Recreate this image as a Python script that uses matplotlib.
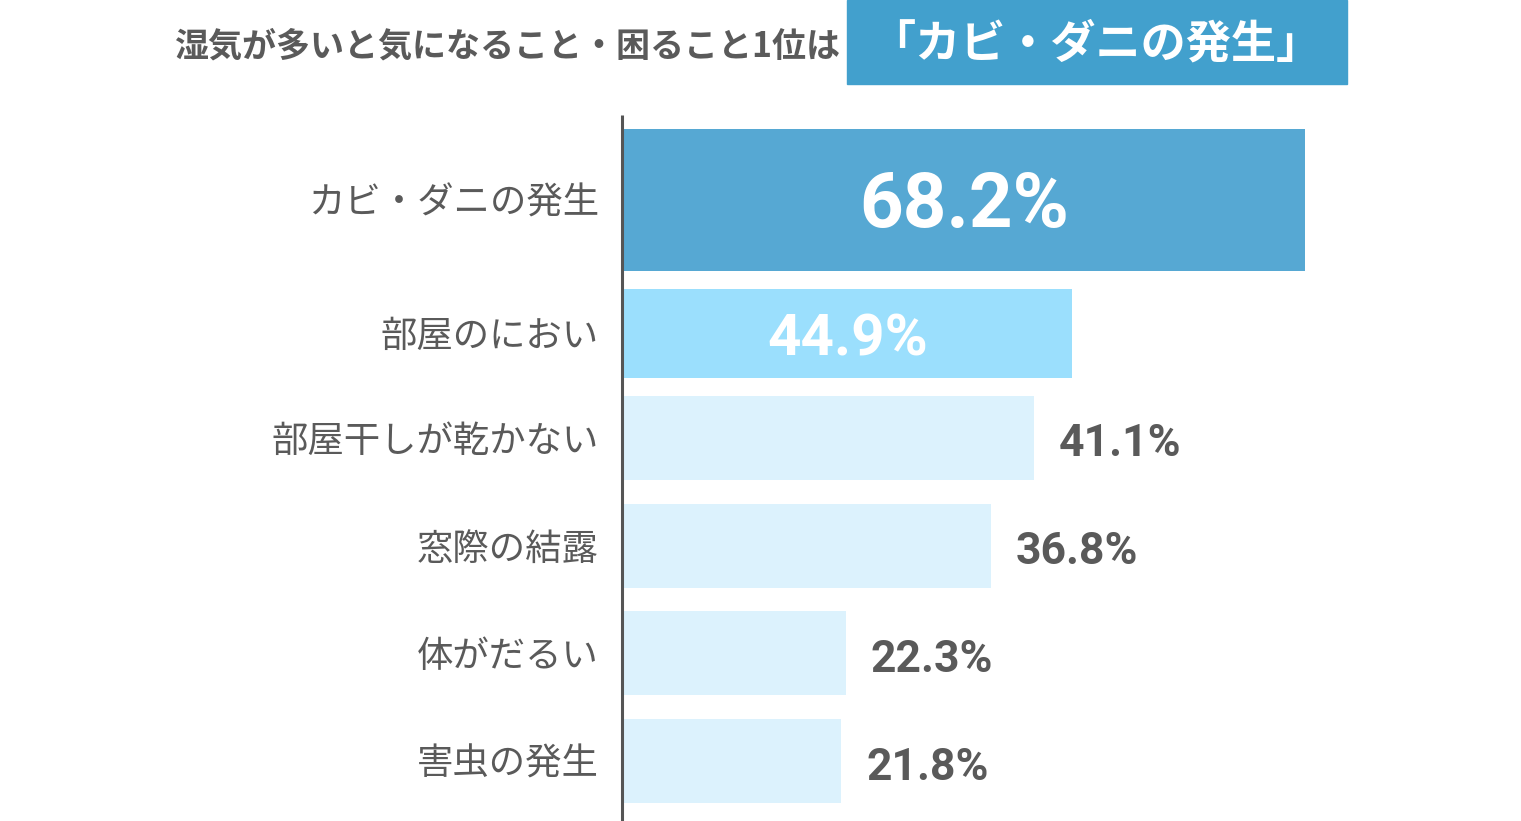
import matplotlib
matplotlib.use("Agg")
import matplotlib.pyplot as plt
from matplotlib.patches import Rectangle

# ---- data ----
categories = ["カビ・ダニの発生", "部屋のにおい", "部屋干しが乾かない", "窓際の結露", "体がだるい", "害虫の発生"]
values = [68.2, 44.9, 41.1, 36.8, 22.3, 21.8]
title_text = "湿気が多いと気になること・困ること1位は"
highlight_text = "「カビ・ダニの発生」"

# ---- style / layout ----
bar_colors = ["#56A8D3", "#9BDFFD", "#DCF2FD", "#DCF2FD", "#DCF2FD", "#DCF2FD"]
y_centers = [200, 333.5, 438, 546, 653.5, 761.5]   # pixel rows
bar_heights = [142, 89, 84, 84, 84, 84]
inside = [True, True, False, False, False, False]
val_sizes = [55, 42, 32, 32, 32, 32]
JP = ["Noto Sans CJK JP", "DejaVu Sans"]
TXT = "#5a5a5a"

W, H = 1521, 821
fig = plt.figure(figsize=(W / 100, H / 100), dpi=100)
ax = fig.add_axes([0, 0, 1, 1])
px_per_unit = 10.0
x0 = 623
ax.set_xlim(-x0 / px_per_unit, (W - x0) / px_per_unit)
ax.set_ylim(H, 0)
ax.axis("off")

ax.barh(y_centers, values, height=bar_heights, color=bar_colors, left=0, zorder=2)

# axis line
ax.plot([-0.1, -0.1], [115, 821], color="#555555", lw=2.2, zorder=3, solid_capstyle="butt")

for cat, v, yc, ins, fs in zip(categories, values, y_centers, inside, val_sizes):
    ax.text(-2.4, yc + 3.5, cat, ha="right", va="center", fontsize=26.2, color=TXT, family=JP)
    if ins:
        ax.text(v / 2, yc + 6.5, f"{v:.1f}%", ha="center", va="center", fontsize=fs,
                color="white", family="Roboto", fontweight="bold", zorder=4)
    else:
        ax.text(v + 2.5, yc + 6, f"{v:.1f}%", ha="left", va="center", fontsize=fs,
                color=TXT, family="Roboto", fontweight="bold", zorder=4)

# title
fig.text(840 / W, 1 - 46 / H, title_text, ha="right", va="center", fontsize=24.5,
         color=TXT, family=JP, fontweight="bold")
fig.patches.append(Rectangle((847 / W, 1 - 84 / H), 500 / W, 84 / H,
                             transform=fig.transFigure, color="#42A0CD", zorder=1))
fig.text(1096 / W, 1 - 44 / H, highlight_text, ha="center", va="center", fontsize=32.5,
         color="white", family=JP, fontweight="bold", zorder=2)

fig.savefig("out.png", dpi=100, facecolor="white")
